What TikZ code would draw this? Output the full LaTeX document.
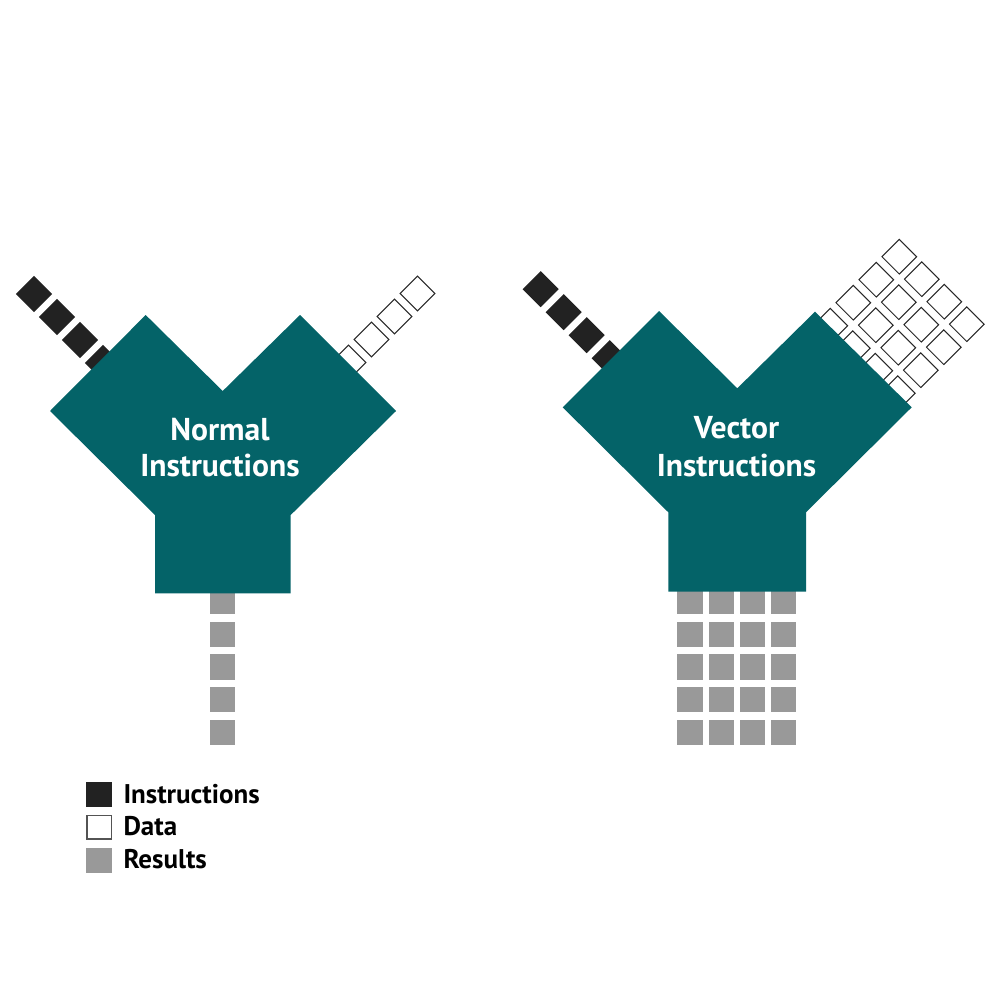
\documentclass[tikz,border=0pt]{standalone}
\usepackage{fontspec}
\setmainfont{PT Sans}
\definecolor{yteal}{RGB}{4,99,104}
\definecolor{instrc}{RGB}{34,34,34}
\definecolor{datac}{RGB}{40,40,40}
\definecolor{resc}{RGB}{153,153,153}
\tikzset{
  sq/.style={rotate=45, minimum size=25.5pt, inner sep=0pt, outer sep=0pt},
  instr/.style={sq, fill=instrc},
  datab/.style={sq, fill=white, draw=datac, line width=1pt, minimum size=24.5pt},
  res/.style={minimum width=25.3pt, minimum height=25.3pt, inner sep=0pt, outer sep=0pt, fill=resc},
  yshape/.style={fill=yteal},
  ylabel/.style={text=white, font=\bfseries\fontsize{31.6}{37}\selectfont, inner sep=0pt, anchor=base},
  legsq/.style={minimum width=26pt, minimum height=25pt, inner sep=0pt, outer sep=0pt},
  legtext/.style={text=black, font=\bfseries\fontsize{27}{30}\selectfont, inner sep=0pt, anchor=base west},
}
\begin{document}
\begin{tikzpicture}[x=1pt,y=-1pt]
\useasboundingbox (0,0) rectangle (1000,1000);
% ---------- left: normal instructions ----------
\foreach \k in {0,...,4}{
  \node[instr] (li\k) at ({34+23*\k},{294+23*\k}) {};
  \node[datab] (ld\k) at ({417.5-23*\k},{293.5+23*\k}) {};
}
\foreach \j in {0,...,4}{
  \node[res] (lr\j) at (222.7,{601.7+32.65*\j}) {};
}
\fill[yshape] (145.7,315) -- (222.7,391) -- (300,315) -- (396,411) -- (290.7,515)
  -- (290.7,593.3) -- (155,593.3) -- (155,515) -- (50,411) -- cycle;
\node[ylabel] (lt1) at (220,440) {Normal};
\node[ylabel] (lt2) at (220,476.7) {Instructions};
% ---------- right: vector instructions ----------
\foreach \k in {0,...,4}{
  \node[instr] (ri\k) at ({540.7+23*\k},{289.2+23*\k}) {};
}
\foreach \i in {0,...,3}{
  \foreach \k in {0,...,4}{
    \node[datab] (rd\i\k) at ({899.3-23*\k+22.5*\i},{256.7+23*\k+22.5*\i}) {};
  }
}
\foreach \c in {0,...,3}{
  \foreach \j in {0,...,4}{
    \node[res] (rr\c\j) at ({690+31.25*\c},{601.7+32.65*\j}) {};
  }
}
\fill[yshape] (659,311) -- (737.3,388.3) -- (815,311.7) -- (911.7,407.3) -- (806,512.3)
  -- (806,591.7) -- (668.3,591.7) -- (668.3,512.3) -- (562.7,407.3) -- cycle;
\node[ylabel] (rt1) at (736.5,438.5) {Vector};
\node[ylabel] (rt2) at (736.5,476.7) {Instructions};
% ---------- legend ----------
\node[legsq, fill=instrc] (k1) at (99.3,794.8) {};
\node[legsq, fill=white, draw=datac!80, line width=1.3pt, minimum width=24.7pt, minimum height=23.7pt] (k2) at (99.3,827.2) {};
\node[legsq, fill=resc] (k3) at (99.3,860) {};
\node[legtext] (kt1) at (123.3,803.3) {Instructions};
\node[legtext] (kt2) at (123.3,835.5) {Data};
\node[legtext] (kt3) at (123.3,868.3) {Results};
\end{tikzpicture}
\end{document}
